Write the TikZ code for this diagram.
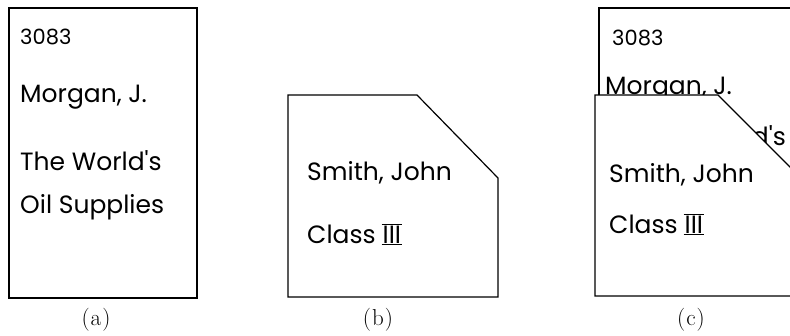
\documentclass[tikz,border=0pt]{standalone}
\usepackage{fontspec}
\newfontfamily\handfont{Poppins}
\newcommand{\romclass}{\ensuremath{\underline{\overline{\hbox{\handfont\fontsize{25}{28}\selectfont\kern1pt III\kern1pt}}}}}
\begin{document}
\begin{tikzpicture}[x=1pt,y=-1pt,
  card/.style={draw=black,line width=1.2pt,fill=white},
  hand/.style={anchor=base west,inner sep=0pt,font=\handfont\fontsize{25}{28}\selectfont},
  num/.style={hand,font=\handfont\fontsize{21}{24}\selectfont},
  caption/.style={font=\fontsize{23}{26}\selectfont}]
\useasboundingbox (0,0) rectangle (790,335);
\clip (0,0) rectangle (790,335);
% card (a):
\path[card] (9,8) rectangle (197,298);
\node[num] (numa) at (20,44) {3083};
\node[hand] (autha) at (20,102) {Morgan, J.};
\node[hand] (titlea) at (20,170) {The World's};
\node[hand] (titleb) at (20,213) {Oil Supplies};
\node[caption] (capa) at (96,320) {(\kern1pt a\kern1pt)};
% card (b), corner cut off:
\path[card] (288,95) -- (417,95) -- (498,178) -- (498,297) -- (288,297) -- cycle;
\node[hand] (nameb) at (307,180) {Smith, John};
\node[hand] (classb) at (307,243) {Class\kern6pt\romclass};
\node[caption] (capb) at (378,320) {(\kern1pt b\kern1pt)};
% card (c): (a) behind (b)
\path[card] (599,8) rectangle (800,290);
\node[num] (numc) at (612,45) {3083};
\node[hand] (authc) at (605,94) {Morgan, J.};
\node[hand,anchor=base east] (titlec) at (786,145) {The World's};
\path[card] (595,95) -- (718,95) -- (800,177) -- (800,296) -- (595,296) -- cycle;
\node[hand] (namec) at (609,182) {Smith, John};
\node[hand] (classc) at (609,233) {Class\kern6pt\romclass};
\node[caption] (capc) at (691,320) {(\kern1pt c\kern1pt)};
\end{tikzpicture}
\end{document}
